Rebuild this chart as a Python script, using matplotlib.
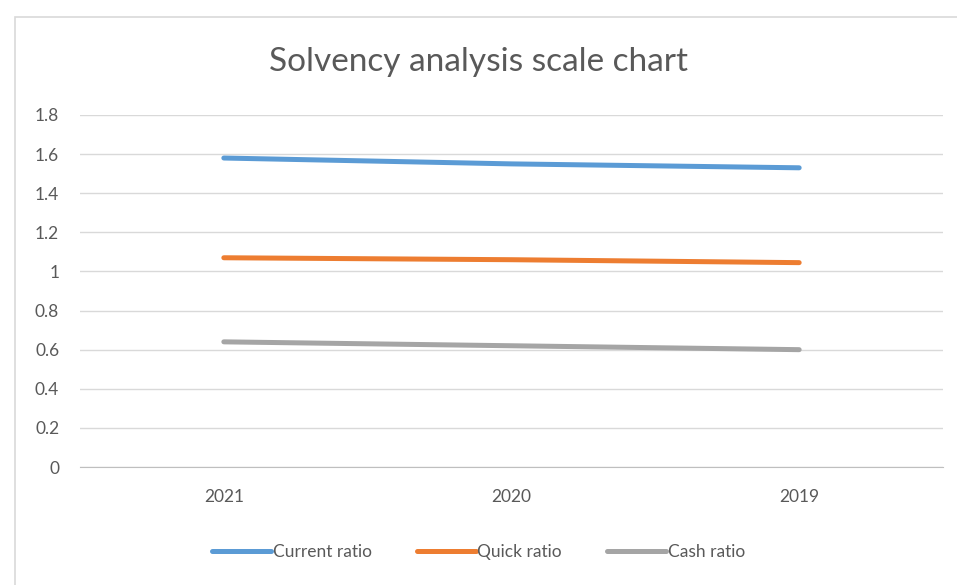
import matplotlib.pyplot as plt
import matplotlib.patches as patches
import numpy as np

years = ['2021', '2020', '2019']
current_ratio = [1.58, 1.55, 1.53]
quick_ratio = [1.07, 1.06, 1.045]
cash_ratio = [0.64, 0.62, 0.60]

colors = ['#5B9BD5', '#ED7D31', '#A5A5A5']
plt.rcParams['font.family'] = ['Lato', 'DejaVu Sans']

fig = plt.figure(figsize=(9.57, 5.85), dpi=100)
# outer chart border
fig.patches.append(patches.Rectangle((15 / 957, -0.01), 1.0, 568 / 585 + 0.01,
                                     transform=fig.transFigure, fill=False,
                                     edgecolor='#d9d9d9', linewidth=1.2))

ax = fig.add_axes([80 / 957, 118 / 585, 863 / 957, 352 / 585])
x = np.arange(len(years))
series = [('Current ratio', current_ratio), ('Quick ratio', quick_ratio), ('Cash ratio', cash_ratio)]
for (name, vals), c in zip(series, colors):
    ax.plot(x, vals, color=c, linewidth=3.6, solid_capstyle='round', label=name)

ax.set_xlim(-0.5, len(years) - 0.5)
ax.set_ylim(0, 1.8)
ax.set_yticks(np.arange(0, 1.81, 0.2))
ax.set_yticklabels(['0', '0.2', '0.4', '0.6', '0.8', '1', '1.2', '1.4', '1.6', '1.8'])
ax.set_xticks(x, years)
ax.grid(axis='y', color='#d9d9d9', linewidth=1)
ax.set_axisbelow(True)
for s in ['top', 'right', 'left']:
    ax.spines[s].set_visible(False)
ax.spines['bottom'].set_color('#bfbfbf')
ax.tick_params(length=0, labelsize=12.5, colors='#595959')
ax.tick_params(axis='y', pad=15)
ax.tick_params(axis='x', pad=16)

fig.text(0.5, 1 - 62 / 585, 'Solvency analysis scale chart', ha='center', va='center',
         fontsize=24, color='#595959')

fig.legend(loc='center', bbox_to_anchor=(0.5, 1 - 552 / 585), ncol=3, frameon=False,
           fontsize=12.5, labelcolor='#595959', handlelength=3.4, handletextpad=0.1,
           columnspacing=2.6)

fig.savefig('out.png', dpi=100)
